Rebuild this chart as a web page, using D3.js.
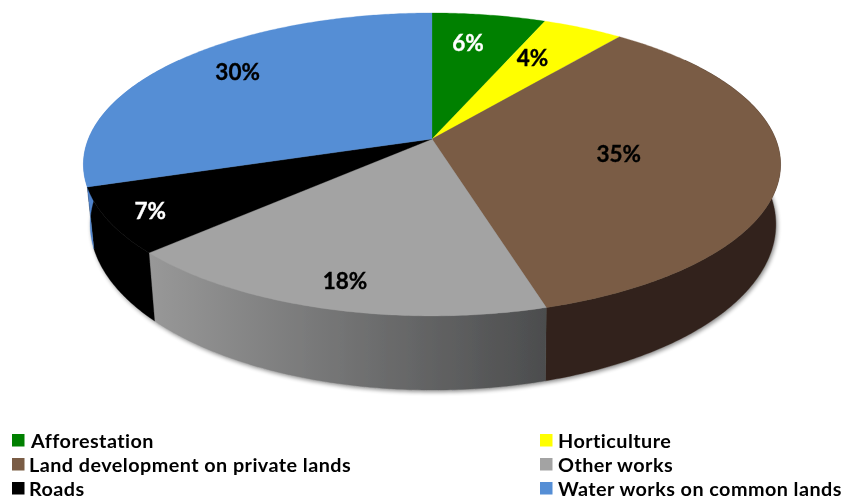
<!DOCTYPE html>
<html><head><meta charset="utf-8">
<script src="https://cdn.jsdelivr.net/npm/d3@7"></script>
<style>html,body{margin:0;padding:0;background:#fff}svg{display:block}
text{font-family:Lato,"Open Sans",sans-serif;font-weight:700}</style></head>
<body><svg id="c" width="846" height="499"></svg>
<script>
const categories=["Afforestation","Horticulture","Land development on private lands","Other works","Roads","Water works on common lands"];
const values=[6.2,4.4,34.9,17.5,7.0,30.0];
const valueLabels=["6%","4%","35%","18%","7%","30%"];
const topColors=["#008000","#ffff00","#7a5c44","#a3a3a3","#000000","#558ed5"];
const labelColors=["#fff","#000","#000","#000","#fff","#000"];

const svg=d3.select("#c");
const defs=svg.append("defs");
defs.append("filter").attr("id","soft").attr("x","-5%").attr("y","-5%").attr("width","110%").attr("height","110%")
  .append("feGaussianBlur").attr("stdDeviation",0.45);
defs.append("filter").attr("id","shadow").attr("x","-5%").attr("y","-5%").attr("width","110%").attr("height","110%")
  .append("feGaussianBlur").attr("stdDeviation",2.2);
const grayGrad=defs.append("linearGradient").attr("id","graySide").attr("gradientUnits","userSpaceOnUse")
  .attr("x1",150).attr("x2",545).attr("y1",0).attr("y2",0);
grayGrad.append("stop").attr("offset",0).attr("stop-color","#989898");
grayGrad.append("stop").attr("offset",1).attr("stop-color","#4c4d4e");
const sideFill=["#004000","#808000","#32231b","url(#graySide)","#000000","#4f83cc"];

// perspective projection of a unit disc
const K=0.168;
const topDisc={cx:432,cy:139,a:343.6,b:147.2};
const botDisc={cx:433,cy:196.5,a:338,b:161};
function project(d,theta,r=1){
  const u=r*Math.sin(theta),v=-r*Math.cos(theta),w=1-K*v;
  return [d.cx+d.a*u/w,d.cy+d.b*v/w];
}
const pie=d3.pie().sort(null).value(d=>d);
const arcs=pie(values);
const line=d3.line();
const rimPts=(d,t0,t1)=>{
  const n=Math.max(2,Math.ceil((t1-t0)/0.01));
  return d3.range(n+1).map(i=>project(d,t0+(t1-t0)*i/n));
};
const art=svg.append("g").attr("filter","url(#soft)");

// soft shadow under the drum
const fullBot=rimPts(botDisc,0,2*Math.PI);
art.append("path").attr("d",line(fullBot)+"Z").attr("fill","#000").attr("opacity",0.45)
  .attr("transform","translate(1.5,2)").attr("filter","url(#shadow)");

// side walls, only the near part of the drum
const sideMin=Math.PI*0.30,sideMax=Math.PI*1.70;
art.append("g").selectAll("path").data(arcs).join("path")
  .filter(d=>d.endAngle>sideMin&&d.startAngle<sideMax)
  .attr("d",d=>{
    const t0=Math.max(d.startAngle,sideMin),t1=Math.min(d.endAngle,sideMax);
    return line(rimPts(topDisc,t0,t1).concat(rimPts(botDisc,t0,t1).reverse()))+"Z";
  })
  .attr("fill",d=>sideFill[d.index]).attr("stroke",d=>sideFill[d.index]).attr("stroke-width",0.3);

// top face
art.append("g").selectAll("path").data(arcs).join("path")
  .attr("d",d=>line([[topDisc.cx,topDisc.cy]].concat(rimPts(topDisc,d.startAngle,d.endAngle)))+"Z")
  .attr("fill",d=>topColors[d.index]).attr("stroke",d=>topColors[d.index]).attr("stroke-width",0.3);

// value labels
const labelR=[0.74,0.68,0.544,0.863,0.885,0.783];
const labelNudge=[-0.035,-0.035,0.0,-0.012,-0.01,0.045];
art.append("g").selectAll("text").data(arcs).join("text")
  .attr("transform",d=>{
    const p=project(topDisc,(d.startAngle+d.endAngle)/2+labelNudge[d.index],labelR[d.index]);
    return `translate(${p[0]},${p[1]})`;
  })
  .attr("text-anchor","middle").attr("dy","0.33em").attr("font-size",22.5)
  .attr("stroke",d=>labelColors[d.index]).attr("stroke-width",0.35)
  .attr("fill",d=>labelColors[d.index]).text(d=>valueLabels[d.index]);

// legend
const col=d3.scalePoint().domain([0,1]).range([12,540]);
const row=d3.scalePoint().domain([0,1,2]).range([441,489]);
const leg=art.append("g").selectAll("g").data(categories).join("g")
  .attr("transform",(d,i)=>`translate(${col(i%2)},${row(Math.floor(i/2))})`);
leg.append("rect").attr("x",0).attr("y",-7).attr("width",12.5).attr("height",12.5)
  .attr("fill",(d,i)=>topColors[i]);
leg.append("text").attr("x",(d,i)=>i===0?19:(i%2?18:17)).attr("y",6.8)
  .attr("font-size",19.8).attr("letter-spacing",0.45).attr("fill","#000").text(d=>d);
</script></body></html>
